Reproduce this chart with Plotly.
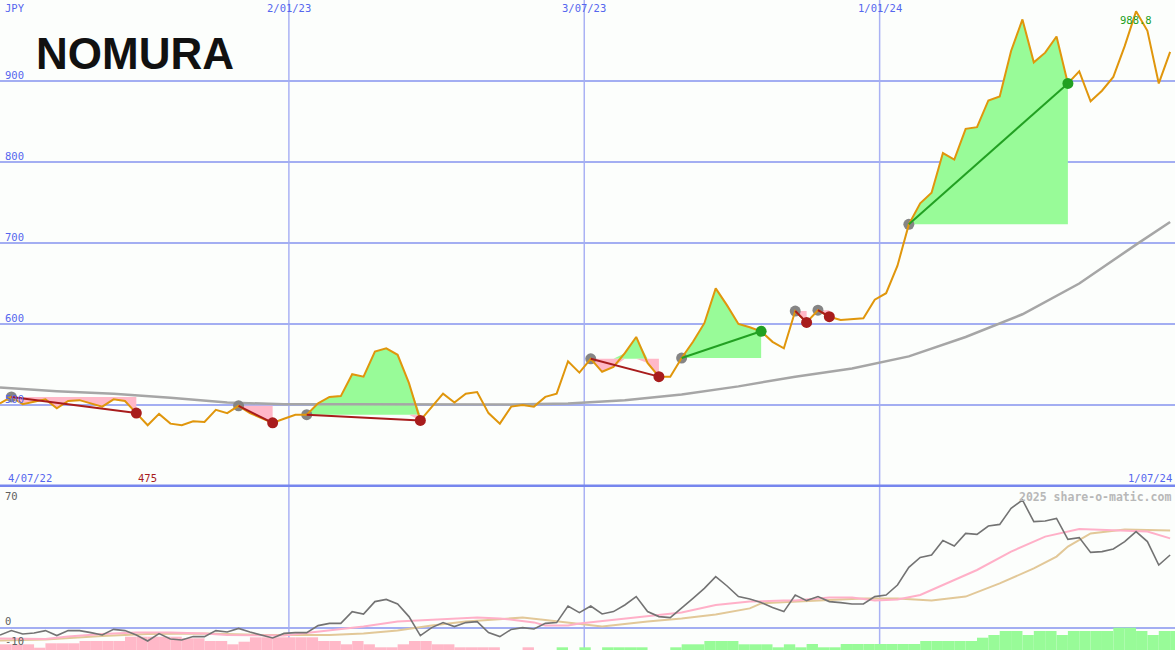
import pandas as pd
import plotly.graph_objects as go

# ---------------- data ----------------
dates = pd.date_range("2022-07-08", periods=104, freq="7D")

price = [502, 510, 501, 504, 507, 496, 505, 506, 502, 498,
         507, 505, 490, 475, 489, 477, 475, 480, 479, 494,
         490, 499, 490, 484, 478, 483, 488, 488, 502, 510,
         511, 538, 535, 566, 570, 562, 527, 481, 498, 514,
         503, 514, 516, 490, 477, 498, 500, 498, 510, 514,
         554, 540, 557, 541, 547, 564, 584, 552, 535, 535,
         558, 578, 601, 644, 623, 600, 596, 591, 578, 570,
         616, 602, 617, 609, 605, 606, 607, 630, 638, 672,
         723, 749, 762, 811, 803, 841, 843, 876, 881, 937,
         976, 923, 935, 955, 897, 912, 875, 888, 905, 943,
         986, 962, 897, 936]

ma_idx = [0, 5, 10, 15, 20, 25, 30, 35, 40, 45, 50, 55, 60, 65, 70, 75, 80, 85, 90, 95, 100, 103]
ma_val = [521.5, 517, 514, 509, 503, 501, 501, 501, 500.5, 500.5, 502, 506, 513, 523, 535, 545,
          560, 584, 612, 650, 698, 726]

osc = [-3.5, -1.3, -3, -2.5, -1.3, -3.8, -1.3, -1.3, -2.3, -3.5,
       -0.7, -1.3, -3.5, -6.5, -2.8, -5.5, -6, -4.3, -4.3, -1.3,
       -2, -0.2, -2, -3.5, -5, -2.7, -2.3, -2.3, 1.2, 2.3,
       2.3, 8.2, 7, 13.2, 14.3, 12, 5.7, -3.8, 0.2, 2.7,
       0.7, 2.7, 3.2, -2.3, -4.3, -0.7, 0.2, -0.5, 2.3, 2.7,
       11, 7.7, 11, 7, 8.2, 11.5, 15.7, 8.2, 5.7, 5.2,
       9.8, 14.8, 19.8, 25.7, 21, 15.7, 14.5, 12.7, 10.2, 8.2,
       16.5, 13.7, 15.7, 13.2, 12.7, 12, 12, 15.7, 16.5, 21.5,
       30.3, 35.3, 36.5, 43.7, 41, 47.3, 46.8, 51, 51.8, 59.8,
       64, 53.2, 53.5, 54.8, 44.3, 45.2, 37.8, 38.2, 39.5, 43.2,
       48.2, 43.2, 31.5, 36.5]

pink_idx = [0, 4, 6, 9, 12, 15, 18, 20, 25, 28, 32, 35, 38, 42, 44, 45, 47, 48, 50, 51,
            54, 57, 60, 63, 66, 69, 70, 73, 75, 77, 79, 81, 83, 86, 89, 92, 95, 98, 101, 103]
pink_val = [-5.2, -5.5, -4.3, -3, -2.3, -2.3, -2.7, -3.5, -3.7, -1.8, 0.7, 3.3, 4.3, 5.3, 4.8,
            4.2, 2.8, 1.3, 1.3, 2.3, 4, 6, 7.7, 11.5, 13.2, 13.7, 13.7, 15.3, 15.3, 13.7,
            14.3, 16.5, 21.5, 29, 38.2, 45.7, 49.5, 49, 48.2, 44.8]

tan_idx = [0, 4, 9, 13, 18, 23, 29, 32, 35, 38, 41, 44, 46, 48, 51, 53, 57, 60, 63, 66,
           67, 70, 73, 76, 79, 82, 85, 88, 91, 93, 94, 96, 99, 103]
tan_val = [-6.3, -5.7, -4, -3, -2.7, -3.5, -3.5, -2.8, -1.2, 1.2, 3.2, 4.3, 5.2, 4, 1.8, 0.7,
           3.2, 4.8, 6.8, 9.8, 12.3, 13, 14, 14.8, 14.8, 13.7, 15.7, 22.3, 29.8, 35.7, 40.7,
           47.3, 49.3, 48.7]

hist = [-2.85, -2.85, -2.85, -1.15, -3.35, -3.35, -3.35, -4.5, -4.5, -4.5,
        -4.5, -6.65, -6.65, -6.65, -6.65, -6.65, -5.85, -5.85, -4.5, -4.5,
        -2.85, -4.15, -6.35, -6.35, -6.35, -6.35, -6.35, -6.35, -4.5, -4.5,
        -2.85, -4.5, -2.85, -1.35, -1.35, -2.85, -4.5, -4.5, -2.85, -2.85,
        -1.35, -1.35, -1.35, -1.35, 0, 0, -1.35, 0, 0, 1.35,
        0, 1.35, 0, 1.35, 1.35, 1.35, 1.35, 0, 0, 1.35,
        2.85, 2.85, 4.5, 4.5, 4.5, 2.85, 2.85, 2.85, 1.35, 2.85,
        1.35, 3, 1.35, 1.35, 3, 3, 3, 3, 3, 3,
        3, 4.5, 4.5, 4.5, 4.5, 4.5, 6.15, 7.5, 9.5, 9.5,
        7.5, 9.5, 9.5, 7.5, 9.5, 9.5, 9.5, 9.5, 11.15, 11.15,
        9.5, 7.5, 9.5, 9.5]

trade_entry = [1, 21, 27, 52, 60, 70, 72, 80]
trade_exit = [12, 24, 37, 58, 67, 71, 73, 94]

price_ticks = [500, 600, 700, 800, 900]
date_ticks = ["2023-01-02", "2023-07-03", "2024-01-01"]
date_labels = ["2/01/23", "3/07/23", "1/01/24"]
start_label, end_label = "4/07/22", "1/07/24"
x_end = "2024-07-01"
low_idx, low_label = 13, "475"
high_idx, high_label = 100, "988.8"
osc_ticks = [70, 0, -10]

# ---------------- style ----------------
BG = "#fcfefc"
GRID = "#a3aef2"
VGRID = "#aab2f4"
BORDER = "#7686ee"
BLUE = "#5566ee"
ORANGE = "#e0960c"
MA_GREY = "#a6a6a6"
PINK_FILL = "#ffb8c8"
GREEN_FILL = "#98fb98"
RED = "#a81c1c"
GREEN = "#22a022"
MONO = "DejaVu Sans Mono"

fig = go.Figure()

# histogram bars (bottom panel)
week_ms = 7 * 24 * 3600 * 1000
fig.add_trace(go.Bar(
    x=dates, y=[abs(v) for v in hist], base=-11, width=week_ms, offset=0,
    marker=dict(color=[GREEN_FILL if v > 0 else PINK_FILL for v in hist], line=dict(width=0)),
    xaxis="x", yaxis="y2", hoverinfo="skip"))

fig.add_trace(go.Scatter(x=dates[tan_idx], y=tan_val, mode="lines",
                         line=dict(color="#e2c898", width=2), xaxis="x", yaxis="y2"))
fig.add_trace(go.Scatter(x=dates[pink_idx], y=pink_val, mode="lines",
                         line=dict(color="#ffb0c8", width=2), xaxis="x", yaxis="y2"))
fig.add_trace(go.Scatter(x=dates, y=osc, mode="lines",
                         line=dict(color="#737373", width=1.6), xaxis="x", yaxis="y2"))

# trade fills (main panel)
for a, b in zip(trade_entry, trade_exit):
    lvl = price[a]
    xs = dates[a:b + 1]
    seg = price[a:b + 1]
    for fn, col in ((max, GREEN_FILL), (min, PINK_FILL)):
        fig.add_trace(go.Scatter(x=xs, y=[lvl] * len(xs), mode="lines",
                                 line=dict(width=0, color=col), hoverinfo="skip"))
        fig.add_trace(go.Scatter(x=xs, y=[fn(p, lvl) for p in seg], mode="lines",
                                 line=dict(width=0, color=col), fill="tonexty",
                                 fillcolor=col, hoverinfo="skip"))

# moving average
fig.add_trace(go.Scatter(x=dates[ma_idx], y=ma_val, mode="lines",
                         line=dict(color=MA_GREY, width=2.5)))

# entry markers
fig.add_trace(go.Scatter(x=dates[trade_entry], y=[price[i] for i in trade_entry], mode="markers",
                         marker=dict(color="#858585", size=11)))

# price
fig.add_trace(go.Scatter(x=dates, y=price, mode="lines", line=dict(color=ORANGE, width=2)))

# trade lines + exit markers
for a, b in zip(trade_entry, trade_exit):
    col = GREEN if price[b] > price[a] else RED
    fig.add_trace(go.Scatter(x=[dates[a], dates[b]], y=[price[a], price[b]], mode="lines",
                             line=dict(color=col, width=2)))
for a, b in zip(trade_entry, trade_exit):
    col = GREEN if price[b] > price[a] else RED
    fig.add_trace(go.Scatter(x=[dates[b]], y=[price[b]], mode="markers",
                             marker=dict(color=col, size=11)))

H = 650
split = 487
fig.update_layout(
    width=1175, height=650, margin=dict(l=0, r=0, t=0, b=0),
    paper_bgcolor=BG, plot_bgcolor=BG, showlegend=False,
    xaxis=dict(type="date", range=[dates[0], x_end], domain=[0, 1], showgrid=False,
               showticklabels=False, zeroline=False, showline=False, ticks=""),
    yaxis=dict(domain=[(H - split) / H, 1], range=[400 - 1 / 0.81, 1000], tickvals=price_ticks,
               showticklabels=False, gridcolor=GRID, gridwidth=2, zeroline=False, showline=False),
    yaxis2=dict(domain=[0, (H - split - 1) / H], range=[-11, 70], tickvals=[0], anchor="x",
                showticklabels=False, gridcolor=GRID, gridwidth=2, zeroline=False, showline=False),
)

shapes = []
for d in date_ticks:
    shapes.append(dict(type="line", xref="x", yref="paper", x0=d, x1=d, y0=0, y1=1,
                       line=dict(color=VGRID, width=1.5), layer="below"))
shapes.append(dict(type="line", xref="paper", yref="y", x0=0, x1=1, y0=400, y1=400,
                   line=dict(color=BORDER, width=3), layer="above"))
fig.update_layout(shapes=shapes)

ann = []
def small(text, color=BLUE, size=10.5, bold=False):
    return dict(text=("<b>%s</b>" % text) if bold else text, showarrow=False,
                font=dict(family=MONO, size=size, color=color), borderpad=0)

ann.append(dict(small("JPY"), xref="paper", yref="paper", x=0, y=1, xanchor="left",
                yanchor="top", xshift=4, yshift=-1))
for v in price_ticks:
    ann.append(dict(small(str(v)), xref="paper", yref="y", x=0, y=v, xanchor="left",
                    yanchor="bottom", xshift=4, yshift=-1))
for d, t in zip(date_ticks, date_labels):
    ann.append(dict(small(t), xref="x", yref="paper", x=d, y=1, xanchor="center",
                    yanchor="top", yshift=-1))
ann.append(dict(small(start_label), xref="paper", yref="y", x=0, y=400, xanchor="left",
                yanchor="bottom", xshift=7, yshift=1))
ann.append(dict(small(end_label), xref="paper", yref="y", x=1, y=400, xanchor="right",
                yanchor="bottom", xshift=-2, yshift=1))
ann.append(dict(small(low_label, color=RED), xref="x", yref="y", x=dates[low_idx], y=400,
                xanchor="center", yanchor="bottom", yshift=1))
ann.append(dict(small(high_label, color=GREEN), xref="x", yref="paper", x=dates[high_idx],
                y=(H - 20) / H, xanchor="center", yanchor="middle"))
for v in osc_ticks:
    ann.append(dict(small(str(v), color="#606060"), xref="paper", yref="y2", x=0, y=v,
                    xanchor="left", yanchor="top" if v == 70 else "bottom", xshift=4,
                    yshift=-1 if v == 70 else 0))
ann.append(dict(small("2025 share-o-matic.com", color="#b8b8b8", size=11.5, bold=True),
                xref="paper", yref="y2", x=1, y=70, xanchor="right", yanchor="top",
                xshift=-3, yshift=-1))
ann.append(dict(text="<b>NOMURA</b>", showarrow=False, xref="paper", yref="paper",
                x=34 / 1175, y=(H - 53) / H, xanchor="left", yanchor="middle",
                font=dict(family="Liberation Sans", size=44, color="#111111")))
fig.update_layout(annotations=ann)

fig.write_html("out.html", config={"displayModeBar": False},
               post_script="document.body.style.margin='0';document.body.style.overflow='hidden';")
